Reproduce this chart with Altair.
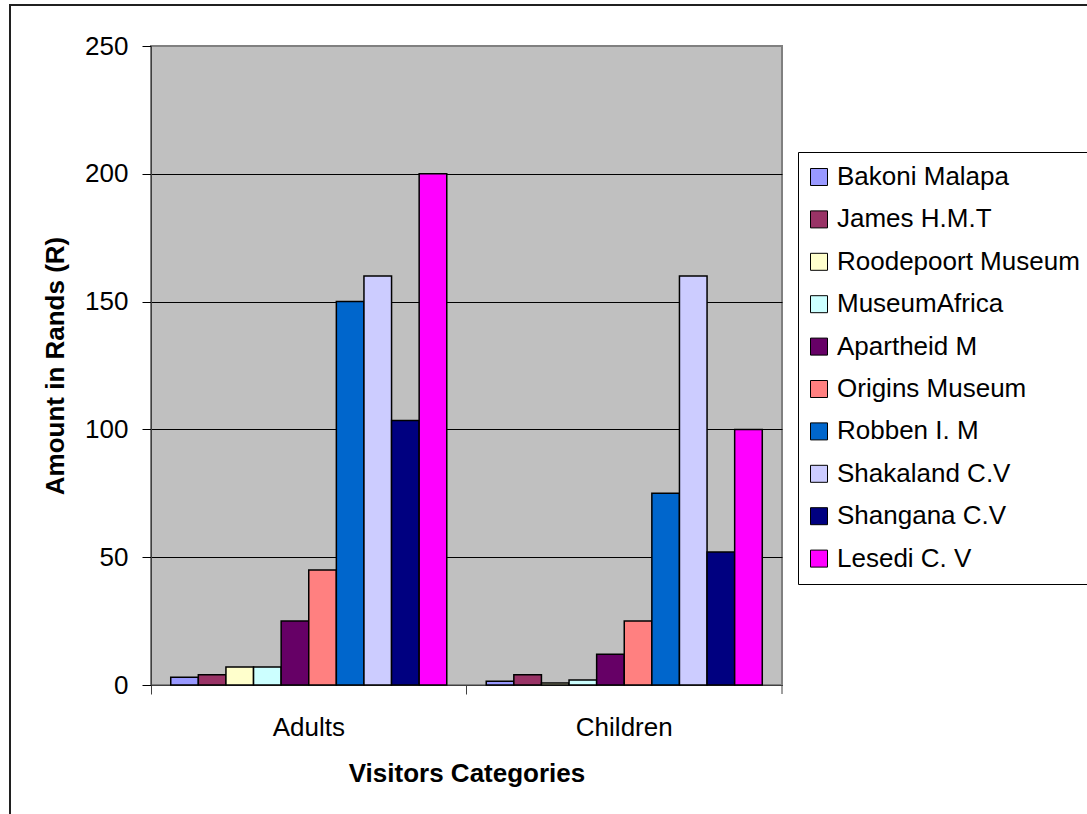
import altair as alt
import pandas as pd

categories = ["Adults", "Children"]
museums = ["Bakoni Malapa", "James H.M.T", "Roodepoort Museum", "MuseumAfrica",
           "Apartheid M", "Origins Museum", "Robben I. M", "Shakaland C.V",
           "Shangana C.V", "Lesedi C. V"]
adults = [3, 4, 7, 7, 25, 45, 150, 160, 103.5, 200]
children = [1.5, 4, 0.8, 2, 12, 25, 75, 160, 52, 100]
colors = ["#9999FF", "#993366", "#FFFFCC", "#CCFFFF", "#660066",
          "#FF8080", "#0066CC", "#CCCCFF", "#000080", "#FF00FF"]
y_ticks = [0, 50, 100, 150, 200, 250]

rows = []
for m, a, c in zip(museums, adults, children):
    rows.append({"category": "Adults", "museum": m, "value": a})
    rows.append({"category": "Children", "museum": m, "value": c})
df = pd.DataFrame(rows)

FONT = "Liberation Sans"
W, H = 631, 639

bars = alt.Chart(df).mark_bar(stroke="black", strokeWidth=1.5).encode(
    x=alt.X("category:N", sort=categories,
            scale=alt.Scale(paddingInner=0, paddingOuter=0),
            axis=alt.Axis(title="Visitors Categories", labelAngle=0,
                          bandPosition=0,
                          tickSize=9, tickColor="#404040", domainColor="#404040",
                          labelPadding=20, titlePadding=20, grid=False)),
    xOffset=alt.XOffset("museum:N", sort=museums,
                        scale=alt.Scale(paddingInner=0, paddingOuter=0.715)),
    y=alt.Y("value:Q", scale=alt.Scale(domain=[0, 250], nice=False),
            axis=alt.Axis(title="Amount in Rands (R)", values=y_ticks,
                          tickSize=9, tickColor="black", domainColor="#404040",
                          labelPadding=14, titlePadding=16,
                          gridColor={"condition": {"test": "datum.value === 250", "value": "#808080"},
                                     "value": "black"},
                          gridOpacity=1, gridWidth=1)),
    color=alt.Color("museum:N", sort=museums,
                    scale=alt.Scale(domain=museums, range=colors),
                    legend=alt.Legend(title=None, orient="none", legendX=647, legendY=106,
                                      strokeColor="black", fillColor="white", padding=12,
                                      labelFontSize=26, labelFont=FONT, labelColor="black",
                                      symbolType="square", symbolSize=289,
                                      symbolStrokeColor="black", symbolStrokeWidth=1,
                                      symbolOpacity=1, symbolOffset=-4,
                                      rowPadding=16.4, labelOffset=5, labelLimit=400)),
)

border_df = pd.DataFrame({"k": [0]})
border = alt.Chart(border_df).mark_rect(fillOpacity=0, stroke="#202020", strokeWidth=2).encode(
    x=alt.value(-141), x2=alt.value(1100), y=alt.value(-41), y2=alt.value(900)
)
right_tick = alt.Chart(border_df).mark_rule(color="#404040", strokeWidth=1).encode(
    x=alt.value(W), y=alt.value(H), y2=alt.value(H + 9)
)

chart = alt.layer(bars, right_tick, border).properties(
    width=W, height=H,
    padding={"left": 151, "top": 46, "right": 1087 - 151 - W, "bottom": 814 - 46 - H},
    autosize=alt.AutoSizeParams(type="none"),
    background="white",
).configure_view(
    fill="#C0C0C0", stroke="#808080", strokeWidth=2
).configure_axis(
    labelFont=FONT, labelFontSize=26, labelColor="black",
    titleFont=FONT, titleFontSize=26, titleFontWeight="bold", titleColor="black",
)

chart.save("out.html", embed_options={"renderer": "svg", "actions": False})
